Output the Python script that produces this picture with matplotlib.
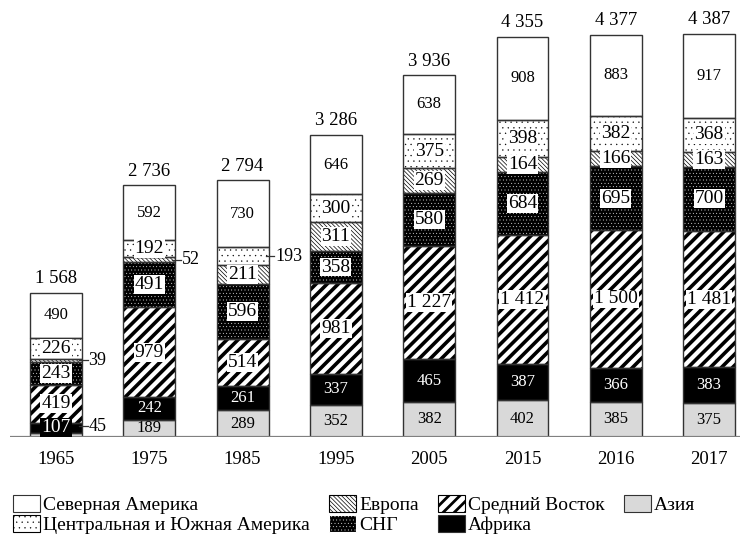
import matplotlib
matplotlib.use('Agg')
import matplotlib.pyplot as plt
from matplotlib.patches import Patch
import numpy as np

# Добыча нефти по регионам, млн т
years = ['1965', '1975', '1985', '1995', '2005', '2015', '2016', '2017']
asia = [45, 189, 289, 352, 382, 402, 385, 375]
africa = [107, 242, 261, 337, 465, 387, 366, 383]
middle_east = [419, 979, 514, 981, 1227, 1412, 1500, 1481]
cis = [243, 491, 596, 358, 580, 684, 695, 700]
europe = [39, 52, 211, 311, 269, 164, 166, 163]
csa = [226, 192, 193, 300, 375, 398, 382, 368]
north_america = [490, 592, 730, 646, 638, 908, 883, 917]
totals = [1568, 2736, 2794, 3286, 3936, 4355, 4377, 4387]

names = ['Азия', 'Африка', 'Средний Восток', 'СНГ', 'Европа',
         'Центральная и Южная Америка', 'Северная Америка']
series = [asia, africa, middle_east, cis, europe, csa, north_america]

# facecolor, hatch, hatch colour, hatch width, label style
styles = [
    ('#d9d9d9', None, 'black', 1.0, 'plain'),
    ('black', None, 'black', 1.0, 'dark'),
    ('white', '///', 'black', 2.6, 'box'),
    ('black', '.....', 'white', 0.2, 'box'),
    ('white', '\\' * 8, 'black', 0.5, 'box'),
    ('white', '...', 'black', 0.2, 'box'),
    ('white', None, 'black', 1.0, 'plain'),
]

# сегменты, подписанные сбоку (год, ряд) -> сдвиг подписи по y
outside = {(0, 4): 0, (0, 0): 95, (1, 4): 0, (2, 5): 0}

plt.rcParams['font.family'] = ['Liberation Serif', 'DejaVu Serif']


def fmt(v):
    return f'{v:,}'.replace(',', ' ')


def hatch_width(artist, lw):
    # толщина штриховки своя для каждого ряда
    if hasattr(artist, 'set_hatch_linewidth'):
        artist.set_hatch_linewidth(lw)
    draw = artist.draw

    def wrapped(renderer):
        with plt.rc_context({'hatch.linewidth': lw}):
            draw(renderer)
    artist.draw = wrapped


fig = plt.figure(figsize=(7.45, 5.35), dpi=100)
ax = fig.add_axes([10 / 745, 98 / 535, 730 / 745, 422 / 535])

x = np.arange(len(years))
w = 0.557
bottom = np.zeros(len(years))
for k, (vals, st) in enumerate(zip(series, styles)):
    fc, hatch, hc, hlw, kind = st
    vals = np.array(vals)
    with plt.rc_context({'hatch.linewidth': hlw}):
        bars = ax.bar(x, vals, w, bottom=bottom, color=fc, hatch=hatch,
                      edgecolor=hc, linewidth=0, zorder=2)
    if hatch:
        for b in bars:
            hatch_width(b, hlw)
    ax.bar(x, vals, w, bottom=bottom, fill=False, edgecolor='#333333',
           linewidth=1.0, zorder=3)
    for i, v in enumerate(vals):
        yc = bottom[i] + v / 2
        if (i, k) in outside:
            xr = x[i] + w / 2
            yy = yc + outside[(i, k)]
            ax.plot([xr - 0.03, xr + 0.06], [yy, yy], color='#333333',
                    lw=0.9, zorder=4)
            ax.text(xr + 0.07, yy, fmt(v), ha='left', va='center',
                    fontsize=13, zorder=5)
            continue
        if kind == 'plain':
            ax.text(x[i], yc, fmt(v), ha='center', va='center',
                    fontsize=12, zorder=5)
        elif kind == 'dark':
            if v < 150:
                ax.text(x[i], yc, fmt(v), ha='center', va='center',
                        fontsize=14, color='white', zorder=5,
                        bbox=dict(boxstyle='square,pad=0.05', fc='black',
                                  ec='none'))
            else:
                ax.text(x[i], yc, fmt(v), ha='center', va='center',
                        fontsize=12, color='white', zorder=5)
        else:
            ax.text(x[i], yc, fmt(v), ha='center', va='center',
                    fontsize=14, zorder=5,
                    bbox=dict(boxstyle='square,pad=0.05', fc='white',
                              ec='none'))
    bottom += vals

for i, t in enumerate(totals):
    ax.text(x[i], bottom[i] + 60, fmt(t), ha='center', va='bottom',
            fontsize=13.5)

ax.set_xlim(-0.493, 7.331)
ax.set_ylim(0, 4590)
ax.axhline(0, color='#808080', lw=1.6, zorder=4)
for s in ax.spines.values():
    s.set_visible(False)
ax.set_yticks([])
ax.set_xticks(x)
ax.set_xticklabels(years, fontsize=13.5)
ax.tick_params(axis='x', length=0, pad=10)

# легенда: порядок заполнения по столбцам
order = [6, 5, 4, 3, 2, 1, 0]
handles = []
for k in order:
    fc, hatch, hc, hlw, kind = styles[k]
    h = Patch(facecolor=fc, hatch=hatch, edgecolor=hc if hatch else '#333333',
              linewidth=0.8, label=names[k])
    handles.append(h)
leg = fig.legend(handles=handles, ncol=4, loc='lower left',
                 bbox_to_anchor=(11 / 745, -1 / 535), frameon=False,
                 fontsize=14, handlelength=1.39, handleheight=0.93,
                 handletextpad=0.15, columnspacing=1.0, labelspacing=0.06,
                 borderpad=0.1, borderaxespad=0.0)
for h, k in zip(leg.get_patches(), order):
    if styles[k][1]:
        hatch_width(h, min(styles[k][3], 2.0))

fig.savefig('out.png', dpi=100)
